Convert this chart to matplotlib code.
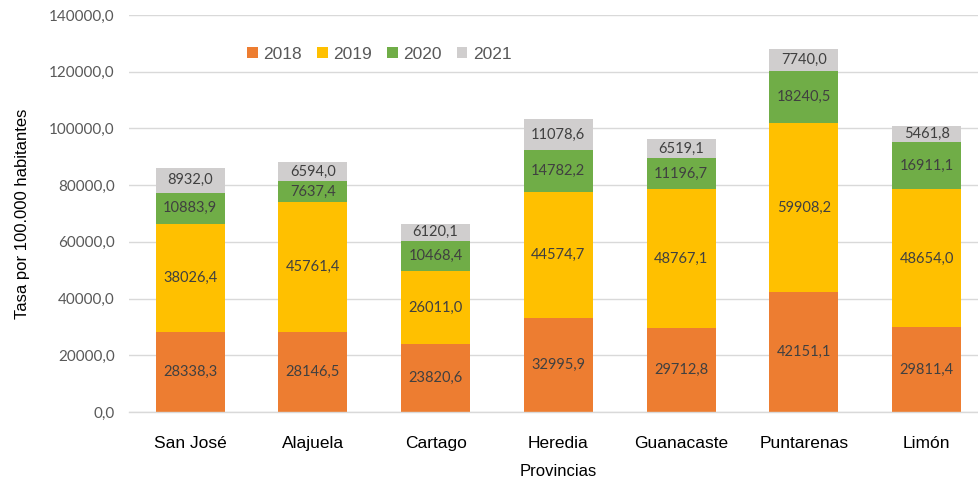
import matplotlib
matplotlib.use("Agg")
import matplotlib.pyplot as plt
import numpy as np

provincias = ["San José", "Alajuela", "Cartago", "Heredia", "Guanacaste", "Puntarenas", "Limón"]
years = ["2018", "2019", "2020", "2021"]
v2018 = [28338.3, 28146.5, 23820.6, 32995.9, 29712.8, 42151.1, 29811.4]
v2019 = [38026.4, 45761.4, 26011.0, 44574.7, 48767.1, 59908.2, 48654.0]
v2020 = [10883.9, 7637.4, 10468.4, 14782.2, 11196.7, 18240.5, 16911.1]
v2021 = [8932.0, 6594.0, 6120.1, 11078.6, 6519.1, 7740.0, 5461.8]
yticks = [0, 20000, 40000, 60000, 80000, 100000, 120000, 140000]

series = [v2018, v2019, v2020, v2021]
colors = ["#ED7D31", "#FFC000", "#70AD47", "#D0CECE"]

def fmt(v):
    return f"{v:.1f}".replace(".", ",")

fig = plt.figure(figsize=(9.79, 4.8), dpi=100)
ax = fig.add_axes([128.7/979, 68/480, (988-128.7)/979, (412-15)/480])

x = np.arange(len(provincias))
bottom = np.zeros(len(provincias))
for vals, col, yr in zip(series, colors, years):
    vals = np.array(vals)
    ax.bar(x, vals, 0.5625, bottom=bottom, color=col, label=yr, zorder=2)
    for xi, b, v in zip(x, bottom, vals):
        ax.text(xi, b + v/2, fmt(v), ha="center", va="center", fontsize=10.5,
                color="#404040", family="Lato", zorder=3)
    bottom += vals

ax.set_xlim(-0.5, len(provincias) - 0.5)
ax.set_ylim(0, 140000)
ax.set_yticks(yticks)
ax.set_yticklabels([fmt(t) for t in yticks], family="Lato", fontsize=11, color="#595959")
ax.set_xticks(x)
ax.set_xticklabels(provincias, family="Liberation Sans", fontsize=12.5, color="#000000")
ax.tick_params(axis="both", length=0)
ax.tick_params(axis="y", pad=10)
ax.tick_params(axis="x", pad=17)
ax.grid(axis="y", color="#D9D9D9", linewidth=1, zorder=0)
for s in ["top", "right", "left"]:
    ax.spines[s].set_visible(False)
ax.spines["bottom"].set_color("#D9D9D9")
ax.spines["bottom"].set_linewidth(1)

ax.set_xlabel("Provincias", family="Liberation Sans", fontsize=12, labelpad=10)
ax.set_ylabel("Tasa por 100.000 habitantes", family="Liberation Sans", fontsize=12, labelpad=14)

leg = ax.legend(ncol=4, loc="upper left", bbox_to_anchor=(0.12, 0.96), frameon=False,
                prop={"family": "Liberation Sans", "size": 12.5}, handlelength=0.6, handleheight=0.6,
                handletextpad=0.3, columnspacing=0.9)
for t in leg.get_texts():
    t.set_color("#595959")

fig.savefig("out.png", dpi=100)
